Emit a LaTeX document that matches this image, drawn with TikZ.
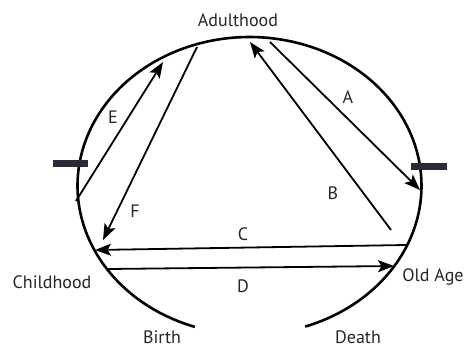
\documentclass[tikz,border=0pt]{standalone}
\usepackage{fontspec}
\setmainfont{PT Sans}
\usetikzlibrary{arrows.meta}
\definecolor{tickcol}{HTML}{2B2B38}
\begin{document}
\begin{tikzpicture}[x=1pt,y=-1pt,
  lbl/.style={font=\fontsize{18}{18}\selectfont, inner sep=0pt, text=black!85},
  conn/.style={line width=1.8pt, -{Stealth[length=16pt,width=12pt,inset=3.5pt]}},
  tick/.style={fill=tickcol, draw=none}]
\useasboundingbox (0,0) rectangle (466,348);
% outer life curve
\draw[line width=2.6pt] plot[domain=-71.1:251.5, samples=240, smooth] ({249.5+172*cos(\x)}, {185.8-148.8*sin(\x)});
% ticks
\fill[tick] (53,160) rectangle (88,167);
\fill[tick] (411,163) rectangle (447,170);
% coordinates
\coordinate (a1) at (270,42);  \coordinate (a2) at (420,190);
\coordinate (b1) at (391,230); \coordinate (b2) at (250,42);
\coordinate (c1) at (406,245); \coordinate (c2) at (95,250);
\coordinate (d1) at (107,269); \coordinate (d2) at (394,266);
\coordinate (e1) at (76,201);  \coordinate (e2) at (163,62);
\coordinate (f1) at (197,47);  \coordinate (f2) at (103,240);
\draw[conn] (a1) -- (a2);
\draw[conn] (b1) -- (b2);
\draw[conn] (c1) -- (c2);
\draw[conn] (d1) -- (d2);
\draw[conn] (e1) -- (e2);
\draw[conn] (f1) -- (f2);
% labels
\node[lbl] (adult) at (238,20) {Adulthood};
\node[lbl] (child) at (52,282) {Childhood};
\node[lbl] (old) at (433,277) {Old Age};
\node[lbl] (birth) at (162,337) {Birth};
\node[lbl] (death) at (358,337) {Death};
\node[lbl] (la) at (348,97) {A};
\node[lbl] (lb) at (333,193) {B};
\node[lbl] (lc) at (243,234) {C};
\node[lbl] (ld) at (243,286) {D};
\node[lbl] (le) at (113,117) {E};
\node[lbl] (lf) at (135,211) {F};
\end{tikzpicture}
\end{document}
